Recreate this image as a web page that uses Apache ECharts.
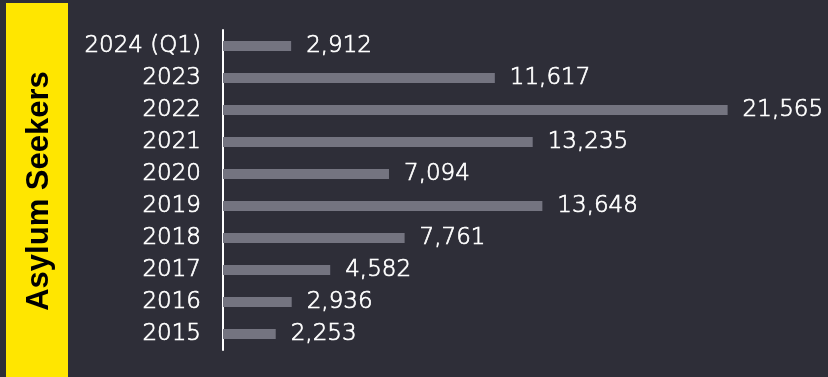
<!DOCTYPE html>
<html>
<head>
<meta charset="utf-8">
<script src="https://cdn.jsdelivr.net/npm/echarts@6/dist/echarts.min.js"></script>
<style>
html,body{margin:0;padding:0;background:#2E2E38;}
#c{width:828px;height:377px;}
</style>
</head>
<body>
<div id="c"></div>
<script>
const categories = ['2015','2016','2017','2018','2019','2020','2021','2022','2023','2024 (Q1)'];
const values = [2253, 2936, 4582, 7761, 13648, 7094, 13235, 21565, 11617, 2912];
const title = 'Asylum Seekers';

const chart = echarts.init(document.getElementById('c'));
chart.setOption({
  backgroundColor: '#2E2E38',
  animation: false,
  grid: { left: 223, top: 30, bottom: 27, width: 585 },
  xAxis: {
    type: 'value', min: 0, max: 25000, show: false
  },
  yAxis: {
    type: 'category',
    data: categories,
    axisLine: { show: true, lineStyle: { color: '#FFFFFF', width: 2 } },
    axisTick: { show: false },
    axisLabel: { color: '#FFFFFF', fontFamily: 'DejaVu Sans', fontWeight: 200, fontSize: 23, margin: 22,
      textBorderColor: '#FFFFFF', textBorderWidth: 0.7 }
  },
  series: [{
    type: 'bar',
    data: values,
    barWidth: 10,
    itemStyle: { color: '#747480' },
    label: {
      show: true, position: 'right', distance: 15,
      color: '#FFFFFF', fontFamily: 'DejaVu Sans', fontWeight: 200, fontSize: 23,
      textBorderColor: '#FFFFFF', textBorderWidth: 0.7,
      formatter: p => p.value.toLocaleString('en-US')
    }
  }],
  graphic: [
    { type: 'rect', left: 6, top: 3, shape: { width: 62, height: 374 }, style: { fill: '#FFE600' }, z: 0 },
    { type: 'text', x: 39, y: 191, rotation: Math.PI / 2,
      style: { text: title, fill: '#000000', font: 'bold 31px "Liberation Sans", Arial, sans-serif', align: 'center', verticalAlign: 'middle' }, z: 1 }
  ]
});
</script>
</body>
</html>
